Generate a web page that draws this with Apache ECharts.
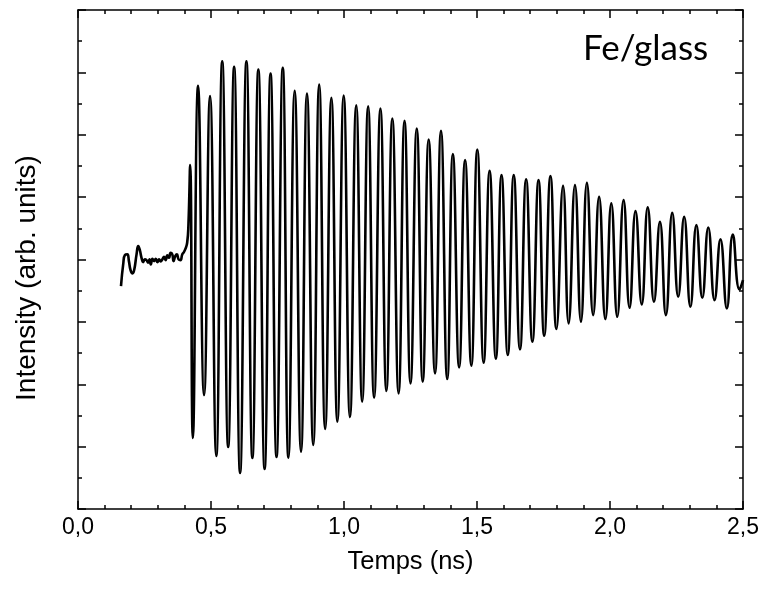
<!DOCTYPE html>
<html><head><meta charset="utf-8">
<script src="https://cdn.jsdelivr.net/npm/echarts@6/dist/echarts.min.js"></script>
<style>html,body{margin:0;padding:0;background:#fff}#c{width:762px;height:589px}</style>
</head><body><div id="c"></div>
<script>
// Time (ns) of each read point: pre-signal noise, then the extrema of the oscillation
const timeNs = [
  0.1616,0.1705,0.1765,0.1854,0.1914,0.1978,0.2052,0.2116,0.2201,0.2265,
  0.2325,0.2388,0.2451,0.2511,0.2575,0.2638,0.2687,0.2735,0.2799,0.2862,
  0.2922,0.2985,0.3049,0.3108,0.3172,0.3235,0.3295,0.3358,0.3422,0.3481,
  0.3545,0.3593,0.3657,0.3720,0.3780,0.3854,0.3918,0.3981,0.4030,0.4104,
  0.4153,0.4216,
  0.4317,0.4515,0.4739,0.4963,0.5198,0.5422,0.5646,0.5869,0.6093,0.6332,
  0.6556,0.6780,0.7015,0.7239,0.7463,0.7698,0.7910,0.8146,0.8384,0.8608,
  0.8843,0.9067,0.9291,0.9526,0.9750,0.9989,1.0224,1.0459,1.0683,1.0907,
  1.1131,1.1369,1.1593,1.1817,1.2052,1.2276,1.2500,1.2735,1.2959,1.3183,
  1.3422,1.3646,1.3881,1.4093,1.4328,1.4552,1.4787,1.5011,1.5250,1.5474,
  1.5709,1.5922,1.6157,1.6381,1.6616,1.6847,1.7082,1.7313,1.7526,1.7761,
  1.7985,1.8235,1.8444,1.8683,1.8907,1.9131,1.9366,1.9590,1.9825,2.0049,
  2.0272,2.0511,2.0735,2.0959,2.1194,2.1418,2.1653,2.1877,2.2101,2.2340,
  2.2563,2.2787,2.3022,2.3246,2.3470,2.3694,2.3929,2.4153,2.4392,2.4616,
  2.4869,2.5000
];
// Intensity (arb. units) at those times
const intensity = [
  3.574,3.947,4.071,4.082,3.974,3.825,3.777,3.841,4.082,4.215,
  4.151,4.027,3.958,4.002,3.990,3.947,4.002,3.921,4.011,3.974,
  4.011,3.958,4.002,3.970,4.002,4.043,3.990,4.066,4.027,4.107,
  4.082,3.974,4.054,4.082,4.002,3.990,4.082,4.119,4.162,4.268,
  4.577,5.513,
  1.138,6.784,1.827,6.619,0.849,7.179,0.994,7.088,0.577,7.179,
  0.817,7.046,0.641,6.982,0.833,7.072,0.822,6.704,0.918,6.662,
  1.026,6.806,1.282,6.591,1.399,6.627,1.474,6.474,1.720,6.458,
  1.784,6.421,1.891,6.261,1.854,6.223,2.014,6.101,2.040,5.925,
  2.175,6.063,2.083,5.689,2.271,5.593,2.296,5.764,2.345,5.421,
  2.409,5.353,2.468,5.353,2.559,5.284,2.681,5.272,2.777,5.337,
  2.885,5.181,2.976,5.192,3.002,5.229,3.109,5.005,3.045,4.899,
  3.082,4.952,3.226,4.776,3.280,4.835,3.322,4.604,3.109,4.748,
  3.402,4.684,3.242,4.551,3.386,4.514,3.349,4.322,3.216,4.402,
  3.518,3.670
];
const xTickValues = [0, 0.5, 1.0, 1.5, 2.0, 2.5];
const xTickLabels = ['0,0', '0,5', '1,0', '1,5', '2,0', '2,5'];
const xTitle = 'Temps (ns)';
const yTitle = 'Intensity (arb. units)';
const sampleLabel = 'Fe/glass';

const FONT = '"Liberation Sans", Arial, sans-serif';
const lineSt = {color: '#000', width: 1.5};
function xAx(pos, labels) {
  return {
    type: 'value', min: 0, max: 2.5, interval: 0.5, position: pos,
    axisLine: {show: true, onZero: false, lineStyle: lineSt},
    axisTick: {show: true, inside: true, length: 8, lineStyle: lineSt},
    minorTick: {show: true, splitNumber: 5, length: 4, lineStyle: lineSt},
    splitLine: {show: false}, minorSplitLine: {show: false},
    axisLabel: labels ? {
      show: true, color: '#000', fontSize: 23, fontFamily: FONT, margin: 7,
      formatter: v => { const i = xTickValues.findIndex(t => Math.abs(t - v) < 1e-6); return i >= 0 ? xTickLabels[i] : ''; }
    } : {show: false},
    name: labels ? xTitle : '', nameLocation: 'middle', nameGap: 40,
    nameTextStyle: {color: '#000', fontSize: 25.5, fontFamily: FONT}
  };
}
function yAx(pos) {
  return {
    type: 'value', min: 0, max: 8, interval: 1, position: pos,
    axisLine: {show: true, onZero: false, lineStyle: lineSt},
    axisTick: {show: true, inside: true, length: 8, lineStyle: lineSt},
    minorTick: {show: true, splitNumber: 2, length: 4, lineStyle: lineSt},
    splitLine: {show: false}, minorSplitLine: {show: false},
    axisLabel: {show: false}
  };
}
const chart = echarts.init(document.getElementById('c'), null, {renderer: 'canvas'});
chart.setOption({
  animation: false,
  backgroundColor: '#fff',
  grid: {left: 78, right: 14, top: 10, bottom: 80, containLabel: false},
  graphic: [
    {type: 'text', x: 27, y: 278, rotation: Math.PI / 2,
     style: {text: yTitle, fill: '#000', font: '28px "Liberation Sans", Arial, sans-serif', align: 'center', verticalAlign: 'middle'}},
    {type: 'text', left: 583, top: 31,
     style: {text: sampleLabel, fill: '#000', font: '35px Lato, "Open Sans", sans-serif'}}
  ],
  xAxis: [xAx('bottom', true), xAx('top', false)],
  yAxis: [yAx('left'), yAx('right')],
  series: [{
    type: 'line', xAxisIndex: 0, yAxisIndex: 0,
    data: timeNs.map((t, i) => [t, intensity[i]]),
    smooth: 0.5, showSymbol: false, clip: true,
    lineStyle: {color: '#000', width: 2.6}
  }]
});
</script></body></html>
